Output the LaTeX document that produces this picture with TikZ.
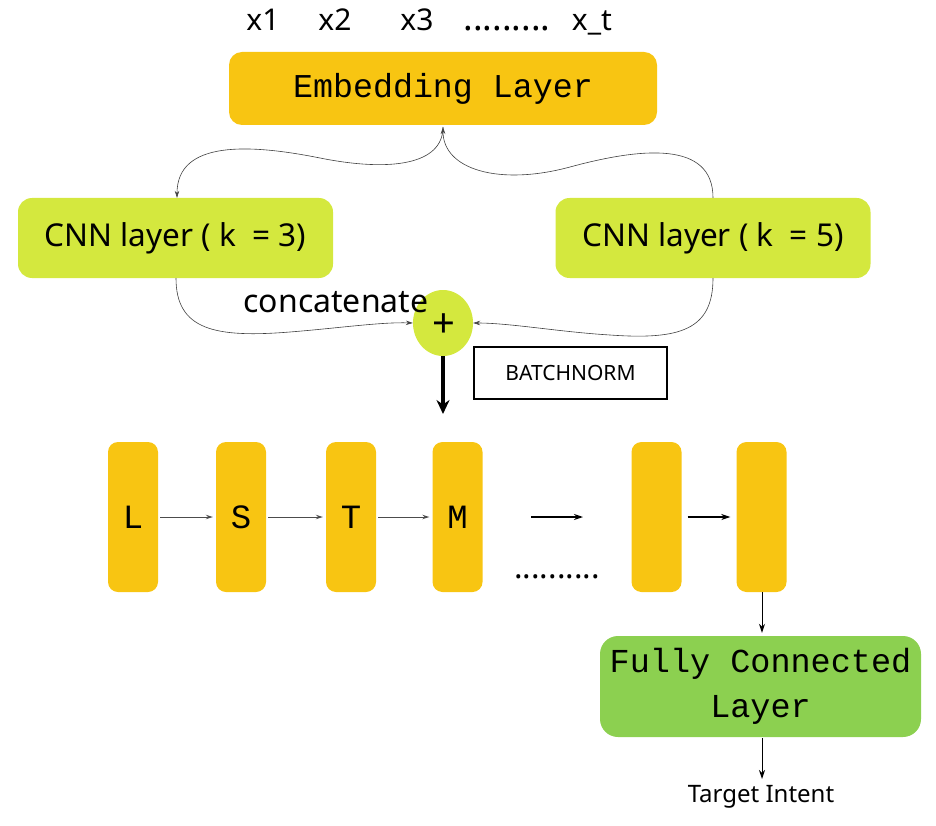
\documentclass[tikz,border=0pt]{standalone}
\usepackage{fontspec}
\setmainfont{Noto Sans}
\newfontfamily\monof{Liberation Mono}
\usetikzlibrary{arrows.meta,shapes.geometric}
\definecolor{goldbox}{RGB}{248,197,18}
\definecolor{limebox}{RGB}{212,232,62}
\definecolor{fcbox}{RGB}{140,208,80}
\newcommand{\fsz}[1]{\fontsize{#1}{#1}\selectfont}
\begin{document}
\begin{tikzpicture}[x=1pt,y=-1pt,
  embbox/.style={fill=goldbox, rounded corners=13pt, inner sep=0pt, minimum width=428pt, minimum height=73pt, font=\monof\fsz{33.3}},
  cnnbox/.style={fill=limebox, rounded corners=14pt, inner sep=0pt, minimum width=315pt, minimum height=80pt, font=\fsz{31.5}},
  lstmbox/.style={fill=goldbox, rounded corners=10pt, inner sep=0pt, minimum width=50pt, minimum height=150pt, font=\monof\fsz{34}},
  fcnode/.style={fill=fcbox, rounded corners=18pt, inner sep=0pt, minimum width=321pt, minimum height=101pt, align=center, font=\monof\fontsize{33.5}{45}\selectfont},
  xlab/.style={anchor=base, inner sep=0pt, font=\fsz{30}},
  thinarr/.style={-{Stealth[length=7pt,width=4.5pt]}, line width=0.6pt, draw=black!75},
  grayarr/.style={-{Stealth[length=7pt,width=4.5pt]}, line width=1pt, draw=black!70},
  blackarr/.style={-{Stealth[length=9pt,width=6pt]}, line width=1.3pt, draw=black},
  thickarr/.style={-{Stealth[length=14pt,width=13pt]}, line width=3.5pt, draw=black}
]
\useasboundingbox (0,0) rectangle (936,826);

% input tokens
\node[xlab] (x1) at (263,31) {x1};
\node[xlab] (x2) at (335,31) {x2};
\node[xlab] (x3) at (417,31) {x3};
\node[xlab, font=\fsz{36}] (xd) at (507,31) {.........};
\node[xlab] (xt) at (592,31) {x\_t};

% embedding
\node[embbox] (emb) at (443,88.5) {Embedding Layer};

% CNN layers
\node[cnnbox] (cnn3) at (175.5,238) {CNN layer ( k \ = 3)};
\node[cnnbox] (cnn5) at (713,238) {CNN layer ( k \ = 5)};

% concat
\node[ellipse, fill=limebox, minimum width=60pt, minimum height=66pt, inner sep=0pt] (plus) at (443,323) {};
\node[font=\fsz{40}, inner sep=0pt] (plustxt) at (444,326) {+};
\node[font=\fsz{32}, inner sep=0pt] (concat) at (336,302) {concatenate};
\node[draw=black, line width=2pt, minimum width=193pt, minimum height=52pt, inner sep=0pt, font=\fsz{21}] (bn) at (570.5,373) {BATCHNORM};

\coordinate (emb-in) at (443,127);
\coordinate (thickend) at (443,414);

% curves
\draw[thinarr] (emb-in) .. controls (443,165) and (390,172) .. (320,158)
  .. controls (250,144) and (177,140) .. (cnn3.north -| 177,0);
\draw[thinarr] (cnn5.north -| 713,0) .. controls (713,140) and (640,148) .. (570,167)
  .. controls (500,186) and (443,170) .. (emb-in);
\draw[thinarr] (cnn3.south -| 176,0) .. controls (176,330) and (215,338) .. (290,332)
  .. controls (340,328) and (380,322) .. (plus.west);
\draw[thinarr] (cnn5.south -| 713,0) .. controls (713,330) and (680,340) .. (610,335)
  .. controls (560,332) and (510,323) .. (plus.east);

\draw[thickarr] (plus.south) -- (thickend);

% LSTM
\node[lstmbox] (l1) at (133,517) {L};
\node[lstmbox] (l2) at (241,517) {S};
\node[lstmbox] (l3) at (351,517) {T};
\node[lstmbox] (l4) at (457.5,517) {M};
\node[lstmbox] (l5) at (656.5,517) {};
\node[lstmbox] (l6) at (761.5,517) {};

\draw[grayarr, shorten <=2pt, shorten >=3pt] (l1) -- (l2);
\draw[grayarr, shorten <=2pt, shorten >=3pt] (l2) -- (l3);
\draw[grayarr, shorten <=2pt, shorten >=3pt] (l3) -- (l4);
\coordinate (fa) at (531,517);
\coordinate (fb) at (583,517);
\draw[blackarr] (fa) -- (fb);
\draw[blackarr, shorten <=6pt, shorten >=6pt] (l5) -- (l6);

\node[font=\bfseries\fsz{32}, inner sep=0pt, anchor=base] (dots) at (557,578) {..........};

% FC
\node[fcnode] (fc) at (760.5,686.5) {Fully Connected\\Layer};
\draw[blackarr, line width=1pt, shorten >=3pt] (l6.south -| 762,0) -- (fc.north -| 762,0);

\node[font=\fsz{24}, inner sep=0pt] (target) at (761,797) {Target Intent};
\draw[blackarr, line width=1pt, shorten <=1pt] (fc.south -| 762,0) -- (762,779) coordinate (tgt);
\end{tikzpicture}
\end{document}
